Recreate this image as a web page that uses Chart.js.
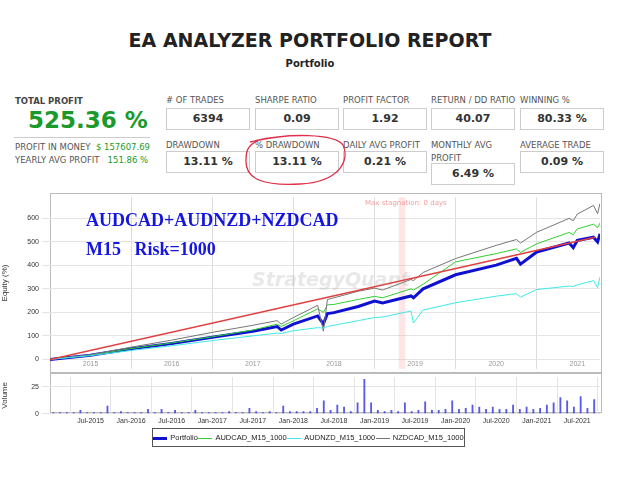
<!DOCTYPE html>
<html><head><meta charset="utf-8">
<script src="https://cdn.jsdelivr.net/npm/chart.js@4"></script>
<style>
body{margin:0;width:640px;height:480px;background:#fff;font-family:"DejaVu Sans",sans-serif;position:relative;overflow:hidden}
.abs{position:absolute}
.lbl{font-size:8.5px;color:#555}
.box{border:1px solid #ccc;background:#fff;width:82px;height:20px;line-height:20px;text-align:center;font-weight:bold;font-size:11px;color:#333}
#legend{left:152px;top:428px;width:311px;height:17px;border:1px solid #555;font-size:7.5px;color:#222;display:flex;align-items:center;justify-content:space-around;font-family:"Liberation Sans",sans-serif}
#legend b{display:inline-block;width:14px;vertical-align:middle;margin-right:3px}
</style></head><body>
<div class="abs" style="left:0;top:29px;width:620px;text-align:center;font-size:19px;font-weight:bold;color:#222">EA ANALYZER PORTFOLIO REPORT</div>
<div class="abs" style="left:0;top:58px;width:620px;text-align:center;font-size:10px;font-weight:bold;color:#222">Portfolio</div>
<div class="abs lbl" style="left:15px;top:96px;font-weight:bold;color:#444">TOTAL PROFIT</div>
<div class="abs" style="left:28px;top:107px;font-size:23px;font-weight:bold;color:#1a9a2a">525.36 %</div>
<div class="abs" style="left:14px;top:137px;width:136px;border-top:1px solid #ccc"></div>
<div class="abs lbl" style="left:15px;top:142px">PROFIT IN MONEY <span style="color:#1a9a2a">&nbsp;$ 157607.69</span></div>
<div class="abs lbl" style="left:15px;top:155px">YEARLY AVG PROFIT <span style="color:#1a9a2a">&nbsp;&nbsp;151.86 %</span></div>
<div id="stats"></div>
<svg class="abs" style="left:0;top:0" width="640" height="480">
<path d="M250,142 C290,132 335,134 343,145 C350,160 340,182 300,184 C265,186 245,180 246,160 C246,150 248,144 262,139" fill="none" stroke="#e0304a" stroke-width="1.3"/>
</svg>
<div class="abs" style="left:50px;top:193px;width:550px;height:178px;border:1px solid #bbb"></div>
<div class="abs" style="left:0;top:190px;width:640px;height:186px"><canvas id="eq"></canvas></div>
<div class="abs" style="left:50px;top:373px;width:550px;height:38px;border:1px solid #bbb"></div>
<div class="abs" style="left:0;top:370px;width:640px;height:58px"><canvas id="vol"></canvas></div>
<div class="abs" style="left:365px;top:199px;font-size:7px;color:#f0a0a0">Max stagnation: 0 days</div>
<div class="abs" style="left:252px;top:268px;font-size:19px;font-style:italic;font-weight:bold;color:rgba(150,150,150,0.22)">StrategyQuant</div>
<div class="abs" style="left:86px;top:206px;font-family:'Liberation Serif',serif;font-weight:bold;font-size:18px;color:#1515e0;line-height:29px;white-space:pre">AUDCAD+AUDNZD+NZDCAD
M15   Risk=1000</div>
<div id="legend" class="abs">
<span><b style="height:3px;background:#1010d0"></b>Portfolio</span>
<span><b style="height:1px;background:#30d030"></b>AUDCAD_M15_1000</span>
<span><b style="height:1px;background:#40e8e8"></b>AUDNZD_M15_1000</span>
<span><b style="height:1px;background:#777"></b>NZDCAD_M15_1000</span>
</div>
<script>
var statLabels = ["# OF TRADES","SHARPE RATIO","PROFIT FACTOR","RETURN / DD RATIO","WINNING %","DRAWDOWN","% DRAWDOWN","DAILY AVG PROFIT","MONTHLY AVG\nPROFIT","AVERAGE TRADE"];
var statValues = ["6394","0.09","1.92","40.07","80.33 %","13.11 %","13.11 %","0.21 %","6.49 %","0.09 %"];

var dates = [2015.0,2015.5,2016.0,2016.5,2017.0,2017.5,2017.8,2017.85,2018.0,2018.3,2018.37,2018.42,2018.5,2018.8,2019.0,2019.1,2019.45,2019.48,2019.6,2020.0,2020.5,2020.75,2020.8,2021.0,2021.4,2021.45,2021.5,2021.7,2021.75,2021.78];
var portfolio = [0,18,45,68,94,120,140,125,150,185,150,195,199,225,248,240,270,262,300,360,401,430,405,457,495,475,506,520,500,534];
var audcad = [0,18,46,70,96,125,150,140,164,215,200,232,234,255,268,262,300,295,320,415,450,470,455,492,540,530,555,575,560,580];
var audnzd = [0,16,38,58,80,100,112,110,122,135,133,140,145,165,178,180,206,155,210,241,269,280,265,297,312,310,317,335,305,350];
var nzdcad = [0,20,52,82,115,145,165,150,178,230,120,255,262,290,303,295,340,335,370,429,485,510,495,541,600,590,618,655,620,663];
var targetLine = [[2015.0,0],[2021.72,520]];
var stagnation = [2019.3,2019.38];
var yearLabels = ["2015","2016","2017","2018","2019","2020","2021"];

var volStart = 2015.0; // monthly
var volume = [1,1,1,1,3,1,1,1,7,1,2,1, 1,1,4,1,4,1,3,1,1,3,1,1, 1,1,2,1,1,5,2,1,2,1,7,2,
  2,2,2,5,12,3,8,6,2,10,32,10, 3,2,3,2,10,2,3,11,3,3,4,12, 4,5,8,6,4,6,4,4,8,4,6,4,
  5,8,10,15,12,6,16,5,13,12];
var monthNames = ["Jan","Jul"];

// stat boxes
var cols = [166,255,343,431,520];
var html = "";
statLabels.forEach(function (l, i) {
  var c = cols[i % 5], row = Math.floor(i / 5);
  var ly = row ? 139 : 94, by = row ? 151 : 108;
  if (i == 8) by = 163;
  html += '<div class="abs lbl" style="left:' + c + 'px;top:' + ly + 'px;white-space:pre;line-height:13px">' + l + '</div>';
  html += '<div class="abs box" style="left:' + c + 'px;top:' + by + 'px">' + statValues[i] + '</div>';
});
document.getElementById('stats').innerHTML = html;

function pts(arr) { return dates.map(function (d, i) { return {x: d, y: arr[i]}; }); }
var xmin = 2015.0, xmax = 2021.78;
var fitY = function (s) { s.width = 50; };
var tickFont = {size: 7, family: 'Liberation Sans'};

var band = {
  id: 'band',
  beforeDatasetsDraw: function (c) {
    var x = c.scales.x, a = c.chartArea, g = c.ctx;
    g.fillStyle = 'rgba(255,180,180,0.35)';
    g.fillRect(x.getPixelForValue(stagnation[0]), a.top, x.getPixelForValue(stagnation[1]) - x.getPixelForValue(stagnation[0]), a.bottom - a.top);
    // year labels inside the plot, bottom
    g.fillStyle = '#999'; g.font = '7px "Liberation Sans"'; g.textAlign = 'center';
    yearLabels.forEach(function (y) { g.fillText(y, x.getPixelForValue(+y + 0.5), a.bottom - 3); });
  }
};

new Chart(document.getElementById('eq'), {
  type: 'line',
  data: {datasets: [
    {data: targetLine.map(function (p) { return {x: p[0], y: p[1]}; }), borderColor: '#e04040', borderWidth: 1.5},
    {data: pts(audnzd), borderColor: '#40e8e8', borderWidth: 1},
    {data: pts(nzdcad), borderColor: '#777', borderWidth: 1},
    {data: pts(audcad), borderColor: '#30d030', borderWidth: 1},
    {data: pts(portfolio), borderColor: '#1010d0', borderWidth: 3}
  ]},
  options: {
    animation: false, responsive: true, maintainAspectRatio: false,
    layout: {padding: {right: 40, top: 4, bottom: 4}},
    elements: {point: {radius: 0}, line: {tension: 0}},
    plugins: {legend: {display: false}, tooltip: {enabled: false}},
    scales: {
      x: {type: 'linear', min: xmin, max: xmax,
        afterBuildTicks: function (s) { var t = []; for (var y = 2016; y <= 2021; y++) t.push({value: y}); s.ticks = t; },
        afterFit: function (s) { s.height = 0; },
        ticks: {display: false},
        grid: {drawTicks: false, color: '#ddd'},
        border: {display: false}
      },
      y: {min: -40, max: 690, afterFit: fitY,
        afterBuildTicks: function (s) { s.ticks = [0,100,200,300,400,500,600].map(function (v) { return {value: v}; }); },
        ticks: {font: tickFont, color: '#333'},
        title: {display: true, text: 'Equity (%)', font: {size: 8}, color: '#333', padding: 0},
        grid: {color: '#e4e4e4'}, border: {display: false}
      }
    }
  },
  plugins: [band]
});

new Chart(document.getElementById('vol'), {
  type: 'bar',
  data: {datasets: [{data: volume.map(function (v, i) { return {x: volStart + (i + 0.5) / 12, y: v}; }),
    backgroundColor: 'rgba(50,50,230,0.8)', barThickness: 1.2}]},
  options: {
    animation: false, responsive: true, maintainAspectRatio: false,
    layout: {padding: {right: 40, top: 3}},
    plugins: {legend: {display: false}, tooltip: {enabled: false}},
    scales: {
      x: {type: 'linear', min: xmin, max: xmax, offset: false,
        afterBuildTicks: function (s) { var t = []; for (var y = 2015.5; y <= 2021.5; y += 0.5) t.push({value: y}); s.ticks = t; },
        ticks: {maxRotation: 0, autoSkip: false, font: tickFont, color: '#333', padding: 3,
          callback: function (v) { return monthNames[v % 1 ? 1 : 0] + '-' + Math.floor(v); }},
        grid: {color: '#e4e4e4', drawTicks: false}, border: {display: false}
      },
      y: {min: 0, max: 34, afterFit: fitY,
        afterBuildTicks: function (s) { s.ticks = [{value: 0}, {value: 25}]; },
        ticks: {font: tickFont, color: '#333'},
        title: {display: true, text: 'Volume', font: {size: 8}, color: '#333', padding: 0},
        grid: {color: '#e4e4e4'}, border: {display: false}
      }
    }
  }
});
</script>
</body></html>
